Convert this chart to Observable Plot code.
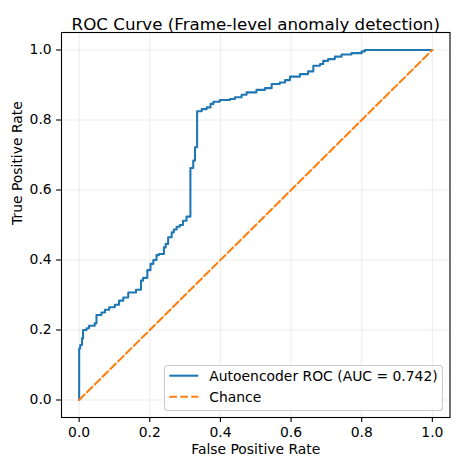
<!DOCTYPE html>
<html>
<head>
<meta charset="utf-8">
<script src="https://cdn.jsdelivr.net/npm/d3@7"></script>
<script src="https://cdn.jsdelivr.net/npm/@observablehq/plot@0.6"></script>
<style>
  html, body { margin: 0; padding: 0; background: #fff; }
  #chart { width: 458px; height: 470px; }
</style>
</head>
<body>
<div id="chart"></div>
<script>
const titleText = "ROC Curve (Frame-level anomaly detection)";
const xLabel = "False Positive Rate";
const yLabel = "True Positive Rate";
const tickValues = [0, 0.2, 0.4, 0.6, 0.8, 1.0];
const seriesNames = ["Autoencoder ROC (AUC = 0.742)", "Chance"];
const seriesColors = ["#1f77b4", "#ff7f0e"];

const fpr = [0, 0, 0.003, 0.008, 0.011, 0.021, 0.028, 0.044, 0.049, 0.063, 0.073, 0.085,
  0.101, 0.113, 0.125, 0.139, 0.161, 0.175, 0.181, 0.193, 0.202, 0.21, 0.219, 0.226,
  0.24, 0.245, 0.252, 0.262, 0.268, 0.276, 0.285, 0.294, 0.304, 0.315, 0.323, 0.328,
  0.334, 0.347, 0.361, 0.372, 0.38, 0.398, 0.427, 0.441, 0.46, 0.474, 0.502, 0.526,
  0.545, 0.568, 0.583, 0.597, 0.625, 0.648, 0.663, 0.682, 0.691, 0.705, 0.724, 0.743,
  0.771, 0.8, 0.809, 1.0];
const tpr = [0, 0.147, 0.157, 0.176, 0.2, 0.205, 0.212, 0.219, 0.243, 0.25, 0.258, 0.265,
  0.272, 0.284, 0.293, 0.307, 0.315, 0.341, 0.349, 0.371, 0.389, 0.4, 0.414, 0.417,
  0.436, 0.446, 0.465, 0.479, 0.487, 0.495, 0.5, 0.512, 0.524, 0.663, 0.684, 0.722,
  0.825, 0.831, 0.836, 0.846, 0.852, 0.857, 0.86, 0.865, 0.872, 0.879, 0.886, 0.891,
  0.903, 0.907, 0.914, 0.924, 0.931, 0.939, 0.955, 0.96, 0.969, 0.974, 0.981, 0.987,
  0.991, 0.996, 1.0, 1.0];
const chanceX = [0, 1];
const chanceY = [0, 1];

const roc = fpr.map((x, i) => ({x, y: tpr[i]}));
const chance = chanceX.map((x, i) => ({x, y: chanceY[i]}));

const plot = Plot.plot({
  width: 458,
  height: 470,
  marginLeft: 61,
  marginRight: 8.5,
  marginTop: 32,
  marginBottom: 53,
  style: {fontFamily: "DejaVu Sans", fontSize: "13.9px", color: "#000", background: "#fff"},
  x: {domain: [-0.05, 1.05]},
  y: {domain: [-0.05, 1.05]},
  marks: [
    Plot.gridX(tickValues, {stroke: "#b0b0b0", strokeOpacity: 0.3, strokeWidth: 0.8}),
    Plot.gridY(tickValues, {stroke: "#b0b0b0", strokeOpacity: 0.3, strokeWidth: 0.8}),
    Plot.line(roc, {x: "x", y: "y", curve: "step-after", stroke: seriesColors[0], strokeWidth: 2.08}),
    Plot.line(chance, {x: "x", y: "y", stroke: seriesColors[1], strokeWidth: 2.08, strokeDasharray: "7.7,3.3"}),
    Plot.axisX(tickValues, {tickFormat: d => d.toFixed(1), tickSize: 4.9, tickPadding: 4.9, label: null, stroke: "#000", strokeWidth: 1.1}),
    Plot.axisY(tickValues, {tickFormat: d => d.toFixed(1), tickSize: 4.9, tickPadding: 4.9, label: null, stroke: "#000", strokeWidth: 1.1}),
    Plot.frame({stroke: "#000", strokeWidth: 1.1}),
    Plot.text([titleText], {frameAnchor: "top", dy: -14, fontSize: 16.7, text: d => d}),
    Plot.text([xLabel], {frameAnchor: "bottom", dy: 36, text: d => d}),
    Plot.text([yLabel], {frameAnchor: "left", dx: -44, rotate: -90, text: d => d})
  ]
});

document.getElementById("chart").appendChild(plot);

// Legend (inside lower-right of the axes)
const svg = d3.select(plot);
const lg = svg.append("g")
  .attr("font-family", "DejaVu Sans")
  .attr("font-size", "13.9px")
  .attr("text-anchor", "start");
lg.append("rect")
  .attr("x", 164.5).attr("y", 365.5).attr("width", 278).attr("height", 45)
  .attr("rx", 3).attr("fill", "#fff").attr("fill-opacity", 0.8)
  .attr("stroke", "#cccccc").attr("stroke-width", 1.1);
const rowsY = [375.7, 396.7];
seriesNames.forEach((name, i) => {
  const ln = lg.append("line")
    .attr("x1", 169.3).attr("x2", 198.3).attr("y1", rowsY[i]).attr("y2", rowsY[i])
    .attr("stroke", seriesColors[i]).attr("stroke-width", 2.08);
  if (i === 1) ln.attr("stroke-dasharray", "7.7,3.3");
  lg.append("text")
    .attr("x", 209.3).attr("y", rowsY[i]).attr("dy", "0.35em")
    .attr("text-anchor", "start")
    .attr("fill", "#000").text(name);
});
</script>
</body>
</html>
